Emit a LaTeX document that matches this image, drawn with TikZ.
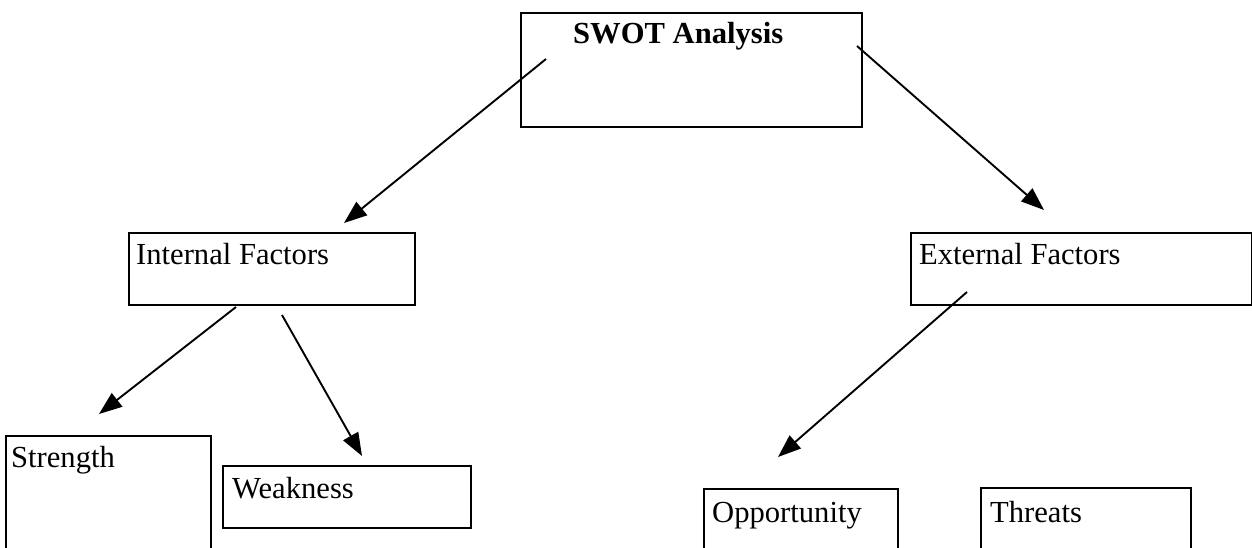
\documentclass[tikz,border=0pt]{standalone}
\usepackage{fontspec}
\setmainfont{Liberation Serif}
\usetikzlibrary{arrows.meta}
\begin{document}
\begin{tikzpicture}[x=1pt,y=-1pt,
  box/.style={draw, line width=1.7pt, rectangle, inner sep=0pt, anchor=north west},
  lbl/.style={font=\fontsize{30.6}{36}\selectfont, inner sep=0pt, anchor=base west},
  conn/.style={line width=1.9pt, -{Triangle[length=23pt,width=17pt]}}]
\useasboundingbox (0,0) rectangle (1252,548);
\clip (0,0) rectangle (1252,548);
% boxes
\node[box, minimum width=341pt, minimum height=114pt] (swot) at (520,12) {};
\node[box, minimum width=286pt, minimum height=72pt] (int) at (128,232) {};
\node[box, minimum width=341pt, minimum height=72pt] (ext) at (910,232) {};
\node[box, minimum width=205pt, minimum height=130pt] (str) at (5,435) {};
\node[box, minimum width=248pt, minimum height=62pt] (weak) at (222,465) {};
\node[box, minimum width=194pt, minimum height=80pt] (opp) at (703,488) {};
\node[box, minimum width=210pt, minimum height=80pt] (thr) at (980,487) {};
% labels
\node[lbl, font=\fontsize{30.6}{36}\selectfont\bfseries] (swott) at (573,44) {SWOT Analysis};
\node[lbl] (intt) at (136,264) {Internal Factors};
\node[lbl] (extt) at (919,264) {External Factors};
\node[lbl] (strt) at (11,467) {Strength};
\node[lbl] (weakt) at (232,498) {Weakness};
\node[lbl] (oppt) at (712,522) {Opportunity};
\node[lbl] (thrt) at (990,522) {Threats};
% connector ends
\coordinate (s1) at (546,59);
\coordinate (t1) at (344,223);
\coordinate (s2) at (857,46);
\coordinate (t2) at (1044,210);
\coordinate (s3) at (236,307);
\coordinate (t3) at (99,414);
\coordinate (s4) at (282,315);
\coordinate (t4) at (362,456);
\coordinate (s5) at (967,292);
\coordinate (t5) at (778,457);
\draw[conn] (s1) -- (t1);
\draw[conn] (s2) -- (t2);
\draw[conn] (s3) -- (t3);
\draw[conn] (s4) -- (t4);
\draw[conn] (s5) -- (t5);
\end{tikzpicture}
\end{document}
